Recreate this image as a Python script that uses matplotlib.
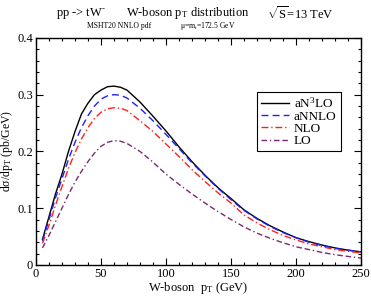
import numpy as np
import matplotlib
matplotlib.use("Agg")
import matplotlib.pyplot as plt
from matplotlib.ticker import MultipleLocator, FuncFormatter

plt.rcParams['font.family'] = ['Liberation Serif', 'DejaVu Serif']
plt.rcParams['mathtext.fontset'] = 'custom'
plt.rcParams['mathtext.rm'] = 'Liberation Serif'
plt.rcParams['mathtext.it'] = 'Liberation Serif'

# W-boson pT (GeV)
pt = [5, 10, 15, 20, 25, 30, 35, 40, 45, 50, 55, 60, 65, 70, 80, 90, 100,
      110, 120, 130, 140, 150, 160, 170, 180, 190, 200, 210, 220, 230, 240, 250]

# d sigma / d pT (pb/GeV)
an3lo = [0.045, 0.085, 0.125, 0.160, 0.200, 0.235, 0.266, 0.285, 0.300, 0.308,
         0.314, 0.315, 0.313, 0.308, 0.287, 0.262, 0.236, 0.208, 0.182, 0.158,
         0.136, 0.117, 0.097, 0.082, 0.069, 0.058, 0.048, 0.041, 0.035, 0.030,
         0.026, 0.023]
annlo = [0.042, 0.080, 0.118, 0.152, 0.186, 0.216, 0.242, 0.263, 0.280, 0.292,
         0.298, 0.300, 0.299, 0.294, 0.276, 0.254, 0.230, 0.205, 0.180, 0.157,
         0.135, 0.115, 0.096, 0.081, 0.068, 0.057, 0.048, 0.040, 0.034, 0.029,
         0.026, 0.023]
nlo = [0.038, 0.070, 0.105, 0.138, 0.170, 0.198, 0.222, 0.242, 0.258, 0.269,
       0.275, 0.277, 0.276, 0.272, 0.254, 0.235, 0.213, 0.191, 0.168, 0.147,
       0.127, 0.109, 0.088, 0.074, 0.062, 0.052, 0.044, 0.037, 0.032, 0.027,
       0.024, 0.021]
lo = [0.030, 0.052, 0.076, 0.100, 0.124, 0.146, 0.165, 0.182, 0.197, 0.209,
      0.216, 0.219, 0.218, 0.214, 0.200, 0.181, 0.160, 0.142, 0.125, 0.109,
      0.094, 0.080, 0.067, 0.056, 0.047, 0.039, 0.032, 0.027, 0.022, 0.018,
      0.015, 0.012]

fig = plt.figure(figsize=(3.71, 2.96), dpi=100)
ax = fig.add_axes([0.097, 0.105, 0.876, 0.767])

ax.plot(pt, an3lo, color='black', lw=1.0, ls='-', label=r'aN$^3$LO')
ax.plot(pt, annlo, color='#1f1fff', lw=1.0, ls=(0, (5, 3)), label='aNNLO')
ax.plot(pt, nlo, color='#ff2020', lw=1.0, ls=(0, (5, 2, 1, 2)), label='NLO')
ax.plot(pt, lo, color='#7a2a72', lw=1.0, ls=(0, (4, 2, 1, 2, 4, 2)), label='LO')

ax.set_xlim(0, 250)
ax.set_ylim(0, 0.4)
ax.xaxis.set_major_locator(MultipleLocator(50))
ax.xaxis.set_minor_locator(MultipleLocator(10))
ax.yaxis.set_major_locator(MultipleLocator(0.1))
ax.yaxis.set_minor_locator(MultipleLocator(0.02))
ax.yaxis.set_major_formatter(FuncFormatter(lambda v, p: '0' if abs(v) < 1e-9 else '%.1f' % v))
ax.tick_params(which='both', direction='in', top=True, right=True, labelsize=9, pad=2)
ax.tick_params(which='major', length=5, width=0.8)
ax.tick_params(which='minor', length=2.5, width=0.8)
for s in ax.spines.values():
    s.set_linewidth(1.0)

ax.set_xlabel(r'W-boson  p$_{\rm T}$ (GeV)', fontsize=9, labelpad=0)
ax.set_ylabel(r'd$\sigma$/dp$_{\rm T}$ (pb/GeV)', fontsize=8.5, labelpad=2)

# titles
fig.text(0.218, 0.955, 'pp -> tW$^{\u2010}$', fontsize=9, ha='center', va='center')
fig.text(0.507, 0.955, r'W-boson p$_{\rm T}$ distribution', fontsize=9, ha='center', va='center')
fig.text(0.810, 0.955, r'$\sqrt{\rm S}$=13 TeV', fontsize=9, ha='center', va='center')
fig.text(0.322, 0.912, 'MSHT20 NNLO pdf', fontsize=5.5, ha='center', va='center')
fig.text(0.560, 0.912, r'$\mu$=m$_{\rm t}$=172.5 GeV', fontsize=5.5, ha='center', va='center')

leg = ax.legend(loc='upper left', bbox_to_anchor=(0.68, 0.762), fontsize=9.5,
                frameon=True, fancybox=False, edgecolor='black', framealpha=1,
                handlelength=2.1, handletextpad=0.4, labelspacing=0.0,
                borderpad=0.3, borderaxespad=0)
leg.get_frame().set_linewidth(0.8)

fig.savefig('out.png', dpi=100)
